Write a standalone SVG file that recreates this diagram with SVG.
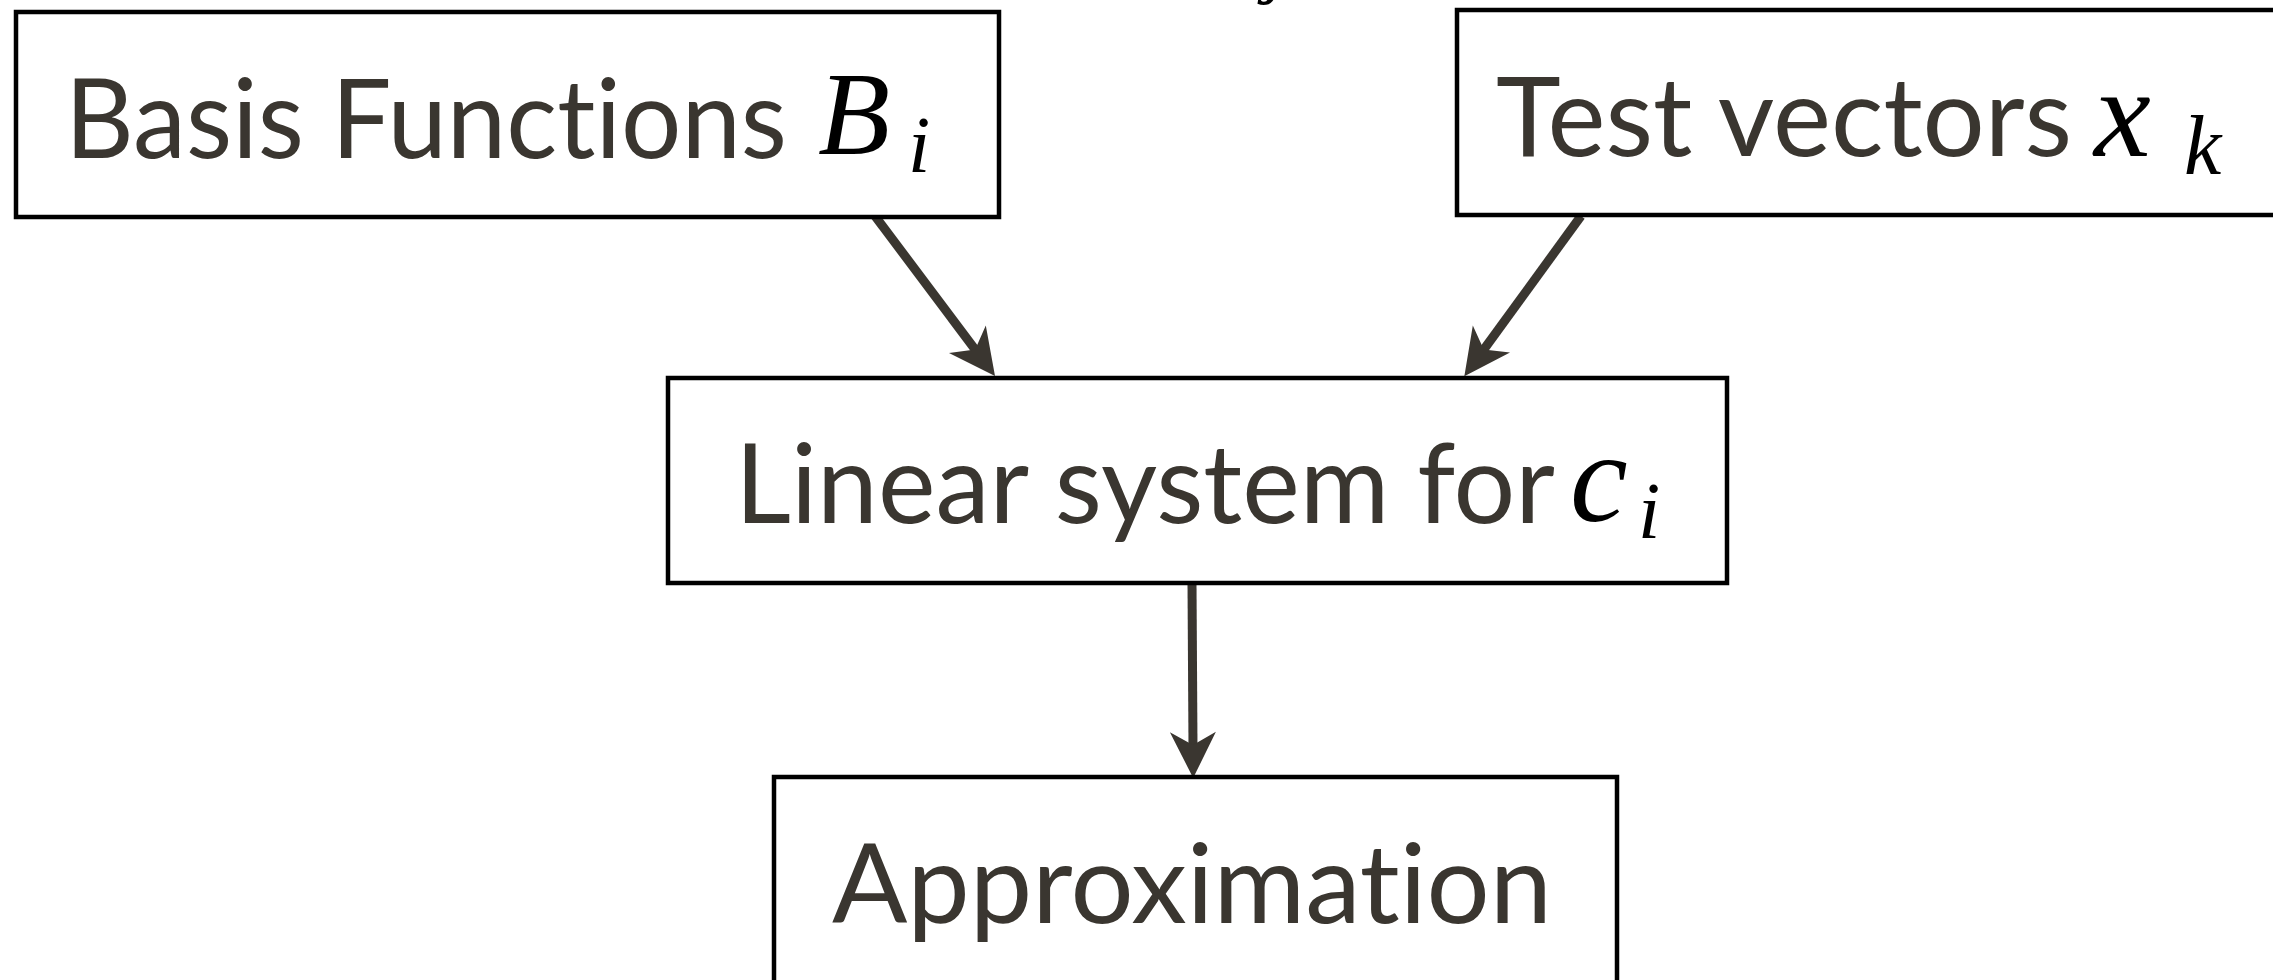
<svg xmlns="http://www.w3.org/2000/svg" width="2273" height="980" viewBox="0 0 2273 980">
<style>
.box{fill:#fff;stroke:#000;stroke-width:4.5}
.lbl{font-family:Lato,"Liberation Sans",sans-serif;font-size:110px;fill:#3a3630;font-variant-ligatures:none;font-feature-settings:"liga" 0}
.math{font-family:"Liberation Serif",serif;font-style:italic;fill:#000}
.conn{stroke:#3a3630;stroke-width:9;fill:none}
</style>
<defs>
<marker id="ah" markerUnits="userSpaceOnUse" viewBox="-18 -26 52 52" refX="0" refY="0" markerWidth="52" markerHeight="52" orient="auto" overflow="visible">
<path d="M30,0 L-16,-23 L-3,0 L-16,23 Z" fill="#3a3630"/>
</marker>
</defs>
<rect width="2273" height="980" fill="#fff"/>
<text class="math" x="1266" y="-12" font-size="80">j</text>
<g id="connectors">
<path class="conn" d="M875,216 L977,352" marker-end="url(#ah)"/>
<path class="conn" d="M1581,216 L1482,352" marker-end="url(#ah)"/>
<path class="conn" d="M1192,583 L1193,748" marker-end="url(#ah)"/>
</g>
<g id="basis">
<rect class="box" x="16" y="12" width="983" height="205"/>
<text class="lbl" x="65" y="158" textLength="722" lengthAdjust="spacingAndGlyphs">Basis Functions</text>
<text class="math" x="818" y="154" font-size="118">B</text>
<text class="math" x="908" y="172" font-size="80">i</text>
</g>
<g id="test">
<rect class="box" x="1457" y="10" width="830" height="205"/>
<text class="lbl" x="1496" y="156" textLength="576" lengthAdjust="spacingAndGlyphs">Test vectors</text>
<text class="math" x="2094" y="156" font-size="128">x</text>
<text class="math" x="2184" y="174" font-size="84">k</text>
</g>
<g id="linear">
<rect class="box" x="668" y="378" width="1059" height="205"/>
<text class="lbl" x="735" y="523" textLength="820" lengthAdjust="spacingAndGlyphs">Linear system for</text>
<text class="math" x="1570" y="521" font-size="130">c</text>
<text class="math" x="1638" y="538" font-size="80">i</text>
</g>
<g id="approx">
<rect class="box" x="774" y="777" width="843" height="240"/>
<text class="lbl" x="832" y="923" textLength="720" lengthAdjust="spacingAndGlyphs">Approximation</text>
</g>
</svg>
